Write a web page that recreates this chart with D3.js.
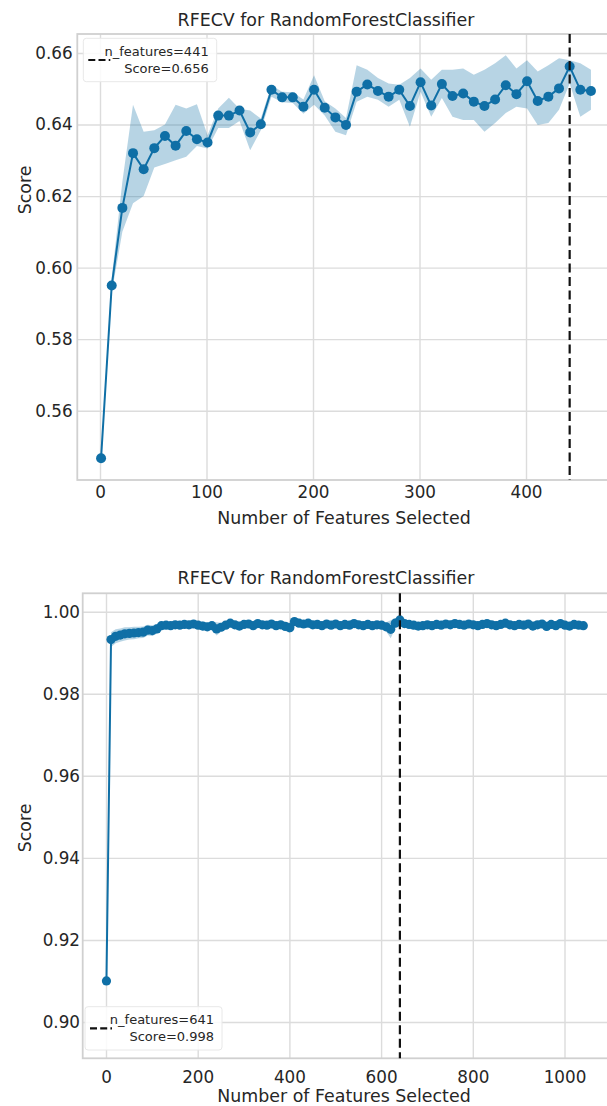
<!DOCTYPE html>
<html>
<head>
<meta charset="utf-8">
<title>RFECV</title>
<script src="https://d3js.org/d3.v7.min.js"></script>
<style>
  body { margin: 0; background: #fff; }
  svg { display: block; font-family: "DejaVu Sans", Verdana, sans-serif; }
  .grid line { stroke: #dcdcdc; stroke-width: 1.4; }
  .grid .domain, .axis .domain { display: none; }
  .axis text { fill: #262626; font-size: 16.8px; font-family: "DejaVu Sans", Verdana, sans-serif; }
  .frame { fill: none; stroke: #d0d0d0; stroke-width: 1.8; }
  .title, .label { fill: #262626; font-size: 17.4px; }
  .legend text { fill: #262626; font-size: 13px; }
</style>
</head>
<body>
<svg width="607" height="1106"></svg>
<script>

// ---- top run : step 10, best at 441 features
var topFeatures = [1, 11, 21, 31, 41, 51, 61, 71, 81, 91,
  101, 111, 121, 131, 141, 151, 161, 171, 181, 191,
  201, 211, 221, 231, 241, 251, 261, 271, 281, 291,
  301, 311, 321, 331, 341, 351, 361, 371, 381, 391,
  401, 411, 421, 431, 441, 451, 461];
var topScore = [0.5467, 0.5950, 0.6167, 0.6320, 0.6275, 0.6334, 0.6368, 0.6341, 0.6382, 0.6359,
  0.6350, 0.6425, 0.6425, 0.6439, 0.6378, 0.6401, 0.6497, 0.6476, 0.6476, 0.6450,
  0.6497, 0.6447, 0.6420, 0.6399, 0.6492, 0.6512, 0.6494, 0.6478, 0.6497, 0.6452,
  0.6518, 0.6453, 0.6513, 0.6480, 0.6487, 0.6464, 0.6452, 0.6470, 0.6510, 0.6485,
  0.6521, 0.6466, 0.6478, 0.6501, 0.6562, 0.6497, 0.6494];
var topLow = [0.5457, 0.5930, 0.6100, 0.6180, 0.6200, 0.6280, 0.6290, 0.6300, 0.6310, 0.6340,
  0.6333, 0.6390, 0.6390, 0.6410, 0.6328, 0.6384, 0.6478, 0.6462, 0.6460, 0.6430,
  0.6455, 0.6425, 0.6380, 0.6370, 0.6464, 0.6478, 0.6469, 0.6450, 0.6469, 0.6394,
  0.6492, 0.6422, 0.6474, 0.6422, 0.6413, 0.6413, 0.6380, 0.6404, 0.6432, 0.6450,
  0.6445, 0.6399, 0.6404, 0.6441, 0.6515, 0.6422, 0.6441];
var topHigh = [0.5477, 0.5970, 0.6240, 0.6455, 0.6380, 0.6384, 0.6400, 0.6455, 0.6445, 0.6457,
  0.6370, 0.6445, 0.6475, 0.6444, 0.6439, 0.6417, 0.6510, 0.6492, 0.6490, 0.6470,
  0.6538, 0.6465, 0.6445, 0.6418, 0.6566, 0.6553, 0.6530, 0.6515, 0.6511, 0.6530,
  0.6557, 0.6525, 0.6553, 0.6553, 0.6557, 0.6539, 0.6553, 0.6571, 0.6594, 0.6557,
  0.6580, 0.6548, 0.6566, 0.6585, 0.6580, 0.6571, 0.6553];
var topXTicks = [0, 100, 200, 300, 400];
var topYTicks = [0.56, 0.58, 0.60, 0.62, 0.64, 0.66];
var topBest = {n: 441, score: 0.656};

// ---- bottom run : step 10, best at 641 features
var botFeatures = [1, 11, 21, 31, 41, 51, 61, 71, 81, 91,
  101, 111, 121, 131, 141, 151, 161, 171, 181, 191,
  201, 211, 221, 231, 241, 251, 261, 271, 281, 291,
  301, 311, 321, 331, 341, 351, 361, 371, 381, 391,
  401, 411, 421, 431, 441, 451, 461, 471, 481, 491,
  501, 511, 521, 531, 541, 551, 561, 571, 581, 591,
  601, 611, 621, 631, 641, 651, 661, 671, 681, 691,
  701, 711, 721, 731, 741, 751, 761, 771, 781, 791,
  801, 811, 821, 831, 841, 851, 861, 871, 881, 891,
  901, 911, 921, 931, 941, 951, 961, 971, 981, 991,
  1001, 1011, 1021, 1031, 1041];
var botScore = [0.9100, 0.9932, 0.9940, 0.9943, 0.9946, 0.9947, 0.9948, 0.9949, 0.9950, 0.9955,
  0.9954, 0.9958, 0.9966, 0.9967, 0.9966, 0.9968, 0.9967, 0.9969, 0.9968, 0.9970,
  0.9967, 0.9965, 0.9963, 0.9966, 0.9958, 0.9962, 0.9967, 0.9972, 0.9968, 0.9965,
  0.9969, 0.9970, 0.9966, 0.9971, 0.9968, 0.9967, 0.9970, 0.9966, 0.9968, 0.9964,
  0.9961, 0.9976, 0.9972, 0.9970, 0.9972, 0.9968, 0.9969, 0.9966, 0.9970, 0.9967,
  0.9970, 0.9966, 0.9969, 0.9967, 0.9971, 0.9968, 0.9966, 0.9969, 0.9966, 0.9968,
  0.9967, 0.9963, 0.9957, 0.9972, 0.9980, 0.9971, 0.9969, 0.9967, 0.9965, 0.9966,
  0.9968, 0.9966, 0.9969, 0.9967, 0.9970, 0.9968, 0.9971, 0.9969, 0.9967, 0.9970,
  0.9968, 0.9966, 0.9969, 0.9971, 0.9968, 0.9966, 0.9969, 0.9972, 0.9968, 0.9966,
  0.9969, 0.9967, 0.9970, 0.9965, 0.9968, 0.9970, 0.9964, 0.9969, 0.9966, 0.9971,
  0.9967, 0.9965, 0.9969, 0.9967, 0.9966];
var botStd = [0.0006, 0.0018, 0.0017, 0.0016, 0.0016, 0.0015, 0.0015, 0.0014, 0.0014, 0.0013,
  0.0013, 0.0012, 0.0008, 0.0009, 0.0008, 0.0010, 0.0009, 0.0008, 0.0009, 0.0010,
  0.0009, 0.0011, 0.0010, 0.0009, 0.0016, 0.0011, 0.0009, 0.0008, 0.0009, 0.0010,
  0.0008, 0.0009, 0.0010, 0.0008, 0.0009, 0.0010, 0.0008, 0.0009, 0.0010, 0.0011,
  0.0013, 0.0009, 0.0008, 0.0009, 0.0008, 0.0010, 0.0009, 0.0008, 0.0009, 0.0010,
  0.0008, 0.0009, 0.0008, 0.0010, 0.0009, 0.0008, 0.0009, 0.0010, 0.0008, 0.0009,
  0.0010, 0.0011, 0.0022, 0.0012, 0.0008, 0.0009, 0.0008, 0.0010, 0.0009, 0.0008,
  0.0009, 0.0010, 0.0008, 0.0009, 0.0008, 0.0010, 0.0009, 0.0008, 0.0009, 0.0010,
  0.0008, 0.0009, 0.0010, 0.0008, 0.0009, 0.0010, 0.0008, 0.0009, 0.0010, 0.0008,
  0.0009, 0.0011, 0.0009, 0.0008, 0.0009, 0.0010, 0.0011, 0.0009, 0.0008, 0.0009,
  0.0010, 0.0008, 0.0009, 0.0010, 0.0009];
var botXTicks = [0, 200, 400, 600, 800, 1000];
var botYTicks = [0.90, 0.92, 0.94, 0.96, 0.98, 1.00];
var botBest = {n: 641, score: 0.998};

var lineColor = "#0f6fa6";
var svg = d3.select("svg");

function drawPanel(p) {
  var g = svg.append("g");
  var x = d3.scaleLinear().domain(p.xDomain).range([p.left, p.right]);
  var y = d3.scaleLinear().domain(p.yDomain).range([p.bottom, p.top]);
  var w = p.right - p.left, h = p.bottom - p.top;

  // grid
  g.append("g").attr("class", "grid")
    .attr("transform", "translate(0," + p.bottom + ")")
    .call(d3.axisBottom(x).tickValues(p.xTicks).tickSize(-h).tickFormat(""));
  g.append("g").attr("class", "grid")
    .attr("transform", "translate(" + p.left + ",0)")
    .call(d3.axisLeft(y).tickValues(p.yTicks).tickSize(-w).tickFormat(""));

  g.append("rect").attr("class", "frame")
    .attr("x", p.left).attr("y", p.top).attr("width", w).attr("height", h);

  // tick labels
  g.append("g").attr("class", "axis")
    .attr("transform", "translate(0," + p.bottom + ")")
    .call(d3.axisBottom(x).tickValues(p.xTicks).tickSize(0).tickPadding(p.xPad).tickFormat(d3.format("d")));
  g.append("g").attr("class", "axis")
    .attr("transform", "translate(" + p.left + ",0)")
    .call(d3.axisLeft(y).tickValues(p.yTicks).tickSize(0).tickPadding(p.yPad).tickFormat(d3.format(".2f")));

  // std band
  var area = d3.area()
    .x(function(d, i) { return x(p.n[i]); })
    .y0(function(d, i) { return y(p.low[i]); })
    .y1(function(d, i) { return y(p.high[i]); });
  g.append("path").datum(p.score)
    .attr("d", area)
    .attr("fill", lineColor).attr("fill-opacity", 0.3);

  var line = d3.line()
    .x(function(d, i) { return x(p.n[i]); })
    .y(function(d) { return y(d); });
  g.append("path").datum(p.score)
    .attr("d", line)
    .attr("fill", "none").attr("stroke", lineColor).attr("stroke-width", 2);

  g.append("g").selectAll("circle")
    .data(p.score)
    .enter().append("circle")
    .attr("cx", function(d, i) { return x(p.n[i]); })
    .attr("cy", function(d) { return y(d); })
    .attr("r", p.r)
    .attr("fill", lineColor);

  // best n_features
  g.append("line")
    .attr("x1", x(p.best.n)).attr("x2", x(p.best.n))
    .attr("y1", p.top).attr("y2", p.bottom)
    .attr("stroke", "#111").attr("stroke-width", 2.2)
    .attr("stroke-dasharray", "9,4.5");

  // titles
  g.append("text").attr("class", "title")
    .attr("x", p.titleX).attr("y", p.titleY).attr("dy", "0.35em")
    .attr("text-anchor", "middle")
    .text("RFECV for RandomForestClassifier");
  g.append("text").attr("class", "label")
    .attr("x", p.xLabelX).attr("y", p.xLabelY).attr("dy", "0.35em")
    .attr("text-anchor", "middle")
    .text("Number of Features Selected");
  g.append("text").attr("class", "label")
    .attr("transform", "translate(25," + p.yLabelY + ") rotate(-90)")
    .attr("dy", "0.35em")
    .attr("text-anchor", "middle")
    .text("Score");

  // legend
  var lg = g.append("g").attr("class", "legend")
    .attr("transform", "translate(" + p.legend.x + "," + p.legend.y + ")");
  lg.append("rect")
    .attr("width", p.legend.w).attr("height", p.legend.h)
    .attr("rx", 3)
    .attr("fill", "#fff").attr("fill-opacity", 0.85)
    .attr("stroke", "#e8e8e8");
  lg.append("line")
    .attr("x1", 5).attr("x2", 27)
    .attr("y1", p.legend.h / 2).attr("y2", p.legend.h / 2)
    .attr("stroke", "#111").attr("stroke-width", 2.2)
    .attr("stroke-dasharray", "7,3.2");
  lg.append("text")
    .attr("x", p.legend.w - 8).attr("y", p.legend.h / 2 - 9).attr("dy", "0.35em")
    .attr("text-anchor", "end")
    .text("n_features=" + p.best.n);
  lg.append("text")
    .attr("x", p.legend.w - 8).attr("y", p.legend.h / 2 + 8.5).attr("dy", "0.35em")
    .attr("text-anchor", "end")
    .text("Score=" + d3.format(".3f")(p.best.score));
}

drawPanel({
  n: topFeatures, score: topScore, low: topLow, high: topHigh,
  xTicks: topXTicks, yTicks: topYTicks, best: topBest,
  left: 77.3, right: 612, top: 34, bottom: 480,
  xDomain: [-21.31, 480.75], yDomain: [0.54063, 0.66531],
  xPad: 6, yPad: 4.6, r: 5,
  titleX: 326, titleY: 20, xLabelX: 344, xLabelY: 518, yLabelY: 190,
  legend: {x: 83.3, y: 38.3, w: 133.4, h: 43.4}
});

// bottom panel band is mean +/- std
var botLow = botScore.map(function(d, i) { return d - botStd[i]; });
var botHigh = botScore.map(function(d, i) { return d + botStd[i]; });

drawPanel({
  n: botFeatures, score: botScore, low: botLow, high: botHigh,
  xTicks: botXTicks, yTicks: botYTicks, best: botBest,
  left: 82.7, right: 612, top: 593.3, bottom: 1058.3,
  xDomain: [-50.8, 1103.6], yDomain: [0.89115, 1.00448],
  xPad: 13, yPad: 2.7, r: 4.6,
  titleX: 326, titleY: 577.5, xLabelX: 344, xLabelY: 1096, yLabelY: 828,
  legend: {x: 85, y: 1006.7, w: 137, h: 43.3}
});

</script>
</body>
</html>
